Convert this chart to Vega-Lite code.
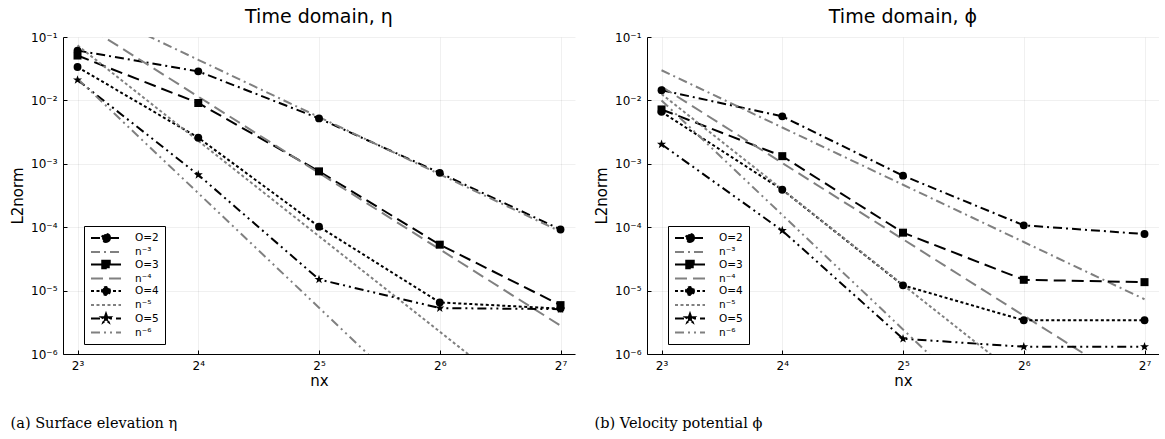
{
  "$schema": "https://vega.github.io/schema/vega-lite/v6.json",
  "background": "white",
  "padding": {"left": 10, "top": 8, "right": 0, "bottom": 0},
  "config": {
    "font": "DejaVu Sans",
    "view": {"stroke": null},
    "concat": {"spacing": 19},
    "title": {"font": "DejaVu Sans", "fontSize": 19, "fontWeight": "normal", "color": "#000", "offset": 4, "frame": "group", "anchor": "middle"},
    "axis": {
      "labelFont": "DejaVu Sans", "labelFontSize": 12, "labelColor": "#000",
      "titleFont": "DejaVu Sans", "titleFontSize": 15, "titleFontWeight": "normal", "titleColor": "#000",
      "domainColor": "#000", "domainWidth": 1,
      "tickColor": "#000", "tickSize": -4, "labelPadding": 10,
      "gridColor": "#000", "gridOpacity": 0.1, "gridWidth": 0.6,
      "labelOverlap": false, "labelFlush": false
    },
    "axisY": {"titlePadding": 5},
    "axisX": {"titlePadding": 2},
    "legend": {
      "orient": "none", "legendX": 21, "legendY": 189, "padding": 6, "rowPadding": -1.5,
      "strokeColor": "#000", "strokeWidth": 1, "fillColor": "white", "cornerRadius": 0,
      "labelFont": "DejaVu Sans", "labelFontSize": 10.5, "labelColor": "#000",
      "symbolSize": 100, "symbolStrokeWidth": 2, "symbolOffset": 10, "labelOffset": 23,
      "symbolFillColor": "black"
    }
  },
  "resolve": {
    "scale": {"stroke": "independent", "strokeDash": "independent", "shape": "independent"},
    "legend": {"stroke": "independent", "strokeDash": "independent", "shape": "independent"}
  },
  "datasets": {
    "eta": [
      {"s": "O=2", "nx": 8, "L2": 0.061}, {"s": "O=2", "nx": 16, "L2": 0.0287}, {"s": "O=2", "nx": 32, "L2": 0.0052}, {"s": "O=2", "nx": 64, "L2": 0.00072}, {"s": "O=2", "nx": 128, "L2": 0.000092},
      {"s": "n⁻³", "nx": 8, "L2": 0.35}, {"s": "n⁻³", "nx": 16, "L2": 0.0437}, {"s": "n⁻³", "nx": 32, "L2": 0.00546}, {"s": "n⁻³", "nx": 64, "L2": 0.000683}, {"s": "n⁻³", "nx": 128, "L2": 0.0000854},
      {"s": "O=3", "nx": 8, "L2": 0.051}, {"s": "O=3", "nx": 16, "L2": 0.0091}, {"s": "O=3", "nx": 32, "L2": 0.00076}, {"s": "O=3", "nx": 64, "L2": 0.000053}, {"s": "O=3", "nx": 128, "L2": 0.0000059},
      {"s": "n⁻⁴", "nx": 8, "L2": 0.1834}, {"s": "n⁻⁴", "nx": 16, "L2": 0.01146}, {"s": "n⁻⁴", "nx": 32, "L2": 0.000716}, {"s": "n⁻⁴", "nx": 64, "L2": 0.0000448}, {"s": "n⁻⁴", "nx": 128, "L2": 0.0000028},
      {"s": "O=4", "nx": 8, "L2": 0.0336}, {"s": "O=4", "nx": 16, "L2": 0.00258}, {"s": "O=4", "nx": 32, "L2": 0.000102}, {"s": "O=4", "nx": 64, "L2": 0.0000065}, {"s": "O=4", "nx": 128, "L2": 0.0000052},
      {"s": "n⁻⁵", "nx": 8, "L2": 0.0737}, {"s": "n⁻⁵", "nx": 16, "L2": 0.0023}, {"s": "n⁻⁵", "nx": 32, "L2": 0.000072}, {"s": "n⁻⁵", "nx": 64, "L2": 0.00000225}, {"s": "n⁻⁵", "nx": 128, "L2": 7e-8},
      {"s": "O=5", "nx": 8, "L2": 0.021}, {"s": "O=5", "nx": 16, "L2": 0.00067}, {"s": "O=5", "nx": 32, "L2": 0.000015}, {"s": "O=5", "nx": 64, "L2": 0.0000053}, {"s": "O=5", "nx": 128, "L2": 0.0000051},
      {"s": "n⁻⁶", "nx": 8, "L2": 0.022}, {"s": "n⁻⁶", "nx": 16, "L2": 0.000344}, {"s": "n⁻⁶", "nx": 32, "L2": 0.00000537}, {"s": "n⁻⁶", "nx": 64, "L2": 8.4e-8}, {"s": "n⁻⁶", "nx": 128, "L2": 1.3e-9}
    ],
    "phi": [
      {"s": "O=2", "nx": 8, "L2": 0.0145}, {"s": "O=2", "nx": 16, "L2": 0.0056}, {"s": "O=2", "nx": 32, "L2": 0.00065}, {"s": "O=2", "nx": 64, "L2": 0.000107}, {"s": "O=2", "nx": 128, "L2": 0.000078},
      {"s": "n⁻³", "nx": 8, "L2": 0.0299}, {"s": "n⁻³", "nx": 16, "L2": 0.00374}, {"s": "n⁻³", "nx": 32, "L2": 0.000467}, {"s": "n⁻³", "nx": 64, "L2": 0.0000584}, {"s": "n⁻³", "nx": 128, "L2": 0.0000073},
      {"s": "O=3", "nx": 8, "L2": 0.0072}, {"s": "O=3", "nx": 16, "L2": 0.00132}, {"s": "O=3", "nx": 32, "L2": 0.000082}, {"s": "O=3", "nx": 64, "L2": 0.0000148}, {"s": "O=3", "nx": 128, "L2": 0.0000136},
      {"s": "n⁻⁴", "nx": 8, "L2": 0.0165}, {"s": "n⁻⁴", "nx": 16, "L2": 0.00103}, {"s": "n⁻⁴", "nx": 32, "L2": 0.0000645}, {"s": "n⁻⁴", "nx": 64, "L2": 0.00000403}, {"s": "n⁻⁴", "nx": 128, "L2": 2.52e-7},
      {"s": "O=4", "nx": 8, "L2": 0.0066}, {"s": "O=4", "nx": 16, "L2": 0.00039}, {"s": "O=4", "nx": 32, "L2": 0.0000121}, {"s": "O=4", "nx": 64, "L2": 0.0000034}, {"s": "O=4", "nx": 128, "L2": 0.0000034},
      {"s": "n⁻⁵", "nx": 8, "L2": 0.0126}, {"s": "n⁻⁵", "nx": 16, "L2": 0.000394}, {"s": "n⁻⁵", "nx": 32, "L2": 0.0000123}, {"s": "n⁻⁵", "nx": 64, "L2": 3.84e-7}, {"s": "n⁻⁵", "nx": 128, "L2": 1.2e-8},
      {"s": "O=5", "nx": 8, "L2": 0.00203}, {"s": "O=5", "nx": 16, "L2": 0.0000885}, {"s": "O=5", "nx": 32, "L2": 0.00000174}, {"s": "O=5", "nx": 64, "L2": 0.0000013}, {"s": "O=5", "nx": 128, "L2": 0.0000013},
      {"s": "n⁻⁶", "nx": 8, "L2": 0.01}, {"s": "n⁻⁶", "nx": 16, "L2": 0.000156}, {"s": "n⁻⁶", "nx": 32, "L2": 0.00000244}, {"s": "n⁻⁶", "nx": 64, "L2": 3.8e-8}, {"s": "n⁻⁶", "nx": 128, "L2": 6e-10}
    ]
  },
  "hconcat": [
    {
      "title": {"text": "(a) Surface elevation η", "orient": "bottom", "anchor": "start", "frame": "bounds", "font": "DejaVu Serif", "fontSize": 14.5, "fontWeight": "normal", "color": "#000", "offset": 29},
      "resolve": {
        "scale": {"stroke": "independent", "strokeDash": "independent", "shape": "independent"},
        "legend": {"stroke": "independent", "strokeDash": "independent", "shape": "independent"}
      },
      "vconcat": [
        {
          "width": 512, "height": 317,
          "title": {"text": "Time domain, η"},
          "data": {"name": "eta"},
          "encoding": {
            "x": {"field": "nx", "type": "quantitative", "title": "nx",
                  "scale": {"type": "log", "base": 2, "domain": [7.36, 139.1], "nice": false},
                  "axis": {"values": [8, 16, 32, 64, 128], "labelExpr": "'2' + ['','','','³','⁴','⁵','⁶','⁷'][round(log(datum.value)/LN2)]"}},
            "y": {"field": "L2", "type": "quantitative", "title": "L2norm",
                  "scale": {"type": "log", "domain": [0.000001, 0.1], "nice": false},
                  "axis": {"values": [0.000001, 0.00001, 0.0001, 0.001, 0.01, 0.1], "labelExpr": "'10⁻' + ['','¹','²','³','⁴','⁵','⁶'][round(-log(datum.value)/LN10)]"}}
          },
          "layer": [
            {
              "mark": {"type": "line", "clip": true, "strokeWidth": 2},
              "encoding": {
                "stroke": {"field": "s", "type": "nominal", "legend": {"title": null},
                           "scale": {"domain": ["O=2", "n⁻³", "O=3", "n⁻⁴", "O=4", "n⁻⁵", "O=5", "n⁻⁶"], "range": ["#000000", "#808080", "#000000", "#808080", "#000000", "#808080", "#000000", "#808080"]}},
                "strokeDash": {"field": "s", "type": "nominal", "legend": {"title": null},
                               "scale": {"domain": ["O=2", "n⁻³", "O=3", "n⁻⁴", "O=4", "n⁻⁵", "O=5", "n⁻⁶"], "range": [[9, 4, 2, 4], [9, 4, 2, 4], [12, 6], [12, 6], [3, 2.5], [3, 2.5], [9, 4, 2, 4, 2, 4], [9, 4, 2, 4, 2, 4]]}}
              }
            },
            {
              "transform": [{"filter": "datum.s === 'O=2' || datum.s === 'O=4'"}],
              "mark": {"type": "point", "shape": "circle", "filled": true, "color": "#000", "opacity": 1, "size": 62}
            },
            {
              "transform": [{"filter": "datum.s === 'O=3'"}],
              "mark": {"type": "point", "shape": "square", "filled": true, "color": "#000", "opacity": 1, "size": 64}
            },
            {
              "transform": [{"filter": "datum.s === 'O=5'"}],
              "mark": {"type": "point", "shape": "M0,-1L0.235,-0.324L0.951,-0.309L0.38,0.124L0.588,0.809L0,0.4L-0.588,0.809L-0.38,0.124L-0.951,-0.309L-0.235,-0.324Z", "filled": true, "color": "#000", "opacity": 1, "size": 90}
            },
            {
              "transform": [{"filter": "false"}],
              "mark": {"type": "point", "filled": true, "fill": "#000", "strokeWidth": 2, "opacity": 1},
              "encoding": {
                "shape": {"field": "s", "type": "nominal", "legend": {"title": null},
                          "scale": {"domain": ["O=2", "n⁻³", "O=3", "n⁻⁴", "O=4", "n⁻⁵", "O=5", "n⁻⁶"],
                                    "range": ["M-3,0H3M0.8,0A0.8,0.8,0,1,1,-0.8,0A0.8,0.8,0,1,1,0.8,0Z", "M-3,0H3", "M-3,0H3M-0.75,-0.75H0.75V0.75H-0.75Z", "M-3,0H3", "M-3,0H3M0.8,0A0.8,0.8,0,1,1,-0.8,0A0.8,0.8,0,1,1,0.8,0Z", "M-3,0H3", "M-3,0H3M0,-0.95L0.22,-0.31L0.9,-0.29L0.36,0.12L0.56,0.77L0,0.38L-0.56,0.77L-0.36,0.12L-0.9,-0.29L-0.22,-0.31Z", "M-3,0H3"]}},
                "stroke": {"field": "s", "type": "nominal", "legend": {"title": null}},
                "strokeDash": {"field": "s", "type": "nominal", "legend": {"title": null}}
              }
            }
          ]
        }
      ]
    },
    {
      "title": {"text": "(b) Velocity potential ϕ", "orient": "bottom", "anchor": "start", "frame": "bounds", "font": "DejaVu Serif", "fontSize": 14.5, "fontWeight": "normal", "color": "#000", "offset": 29},
      "resolve": {
        "scale": {"stroke": "independent", "strokeDash": "independent", "shape": "independent"},
        "legend": {"stroke": "independent", "strokeDash": "independent", "shape": "independent"}
      },
      "vconcat": [
        {
          "width": 512, "height": 317,
          "title": {"text": "Time domain, ϕ"},
          "data": {"name": "phi"},
          "encoding": {
            "x": {"field": "nx", "type": "quantitative", "title": "nx",
                  "scale": {"type": "log", "base": 2, "domain": [7.36, 139.1], "nice": false},
                  "axis": {"values": [8, 16, 32, 64, 128], "labelExpr": "'2' + ['','','','³','⁴','⁵','⁶','⁷'][round(log(datum.value)/LN2)]"}},
            "y": {"field": "L2", "type": "quantitative", "title": "L2norm",
                  "scale": {"type": "log", "domain": [0.000001, 0.1], "nice": false},
                  "axis": {"values": [0.000001, 0.00001, 0.0001, 0.001, 0.01, 0.1], "labelExpr": "'10⁻' + ['','¹','²','³','⁴','⁵','⁶'][round(-log(datum.value)/LN10)]"}}
          },
          "layer": [
            {
              "mark": {"type": "line", "clip": true, "strokeWidth": 2},
              "encoding": {
                "stroke": {"field": "s", "type": "nominal", "legend": {"title": null},
                           "scale": {"domain": ["O=2", "n⁻³", "O=3", "n⁻⁴", "O=4", "n⁻⁵", "O=5", "n⁻⁶"], "range": ["#000000", "#808080", "#000000", "#808080", "#000000", "#808080", "#000000", "#808080"]}},
                "strokeDash": {"field": "s", "type": "nominal", "legend": {"title": null},
                               "scale": {"domain": ["O=2", "n⁻³", "O=3", "n⁻⁴", "O=4", "n⁻⁵", "O=5", "n⁻⁶"], "range": [[9, 4, 2, 4], [9, 4, 2, 4], [12, 6], [12, 6], [3, 2.5], [3, 2.5], [9, 4, 2, 4, 2, 4], [9, 4, 2, 4, 2, 4]]}}
              }
            },
            {
              "transform": [{"filter": "datum.s === 'O=2' || datum.s === 'O=4'"}],
              "mark": {"type": "point", "shape": "circle", "filled": true, "color": "#000", "opacity": 1, "size": 62}
            },
            {
              "transform": [{"filter": "datum.s === 'O=3'"}],
              "mark": {"type": "point", "shape": "square", "filled": true, "color": "#000", "opacity": 1, "size": 64}
            },
            {
              "transform": [{"filter": "datum.s === 'O=5'"}],
              "mark": {"type": "point", "shape": "M0,-1L0.235,-0.324L0.951,-0.309L0.38,0.124L0.588,0.809L0,0.4L-0.588,0.809L-0.38,0.124L-0.951,-0.309L-0.235,-0.324Z", "filled": true, "color": "#000", "opacity": 1, "size": 90}
            },
            {
              "transform": [{"filter": "false"}],
              "mark": {"type": "point", "filled": true, "fill": "#000", "strokeWidth": 2, "opacity": 1},
              "encoding": {
                "shape": {"field": "s", "type": "nominal", "legend": {"title": null},
                          "scale": {"domain": ["O=2", "n⁻³", "O=3", "n⁻⁴", "O=4", "n⁻⁵", "O=5", "n⁻⁶"],
                                    "range": ["M-3,0H3M0.8,0A0.8,0.8,0,1,1,-0.8,0A0.8,0.8,0,1,1,0.8,0Z", "M-3,0H3", "M-3,0H3M-0.75,-0.75H0.75V0.75H-0.75Z", "M-3,0H3", "M-3,0H3M0.8,0A0.8,0.8,0,1,1,-0.8,0A0.8,0.8,0,1,1,0.8,0Z", "M-3,0H3", "M-3,0H3M0,-0.95L0.22,-0.31L0.9,-0.29L0.36,0.12L0.56,0.77L0,0.38L-0.56,0.77L-0.36,0.12L-0.9,-0.29L-0.22,-0.31Z", "M-3,0H3"]}},
                "stroke": {"field": "s", "type": "nominal", "legend": {"title": null}},
                "strokeDash": {"field": "s", "type": "nominal", "legend": {"title": null}}
              }
            }
          ]
        }
      ]
    }
  ]
}
